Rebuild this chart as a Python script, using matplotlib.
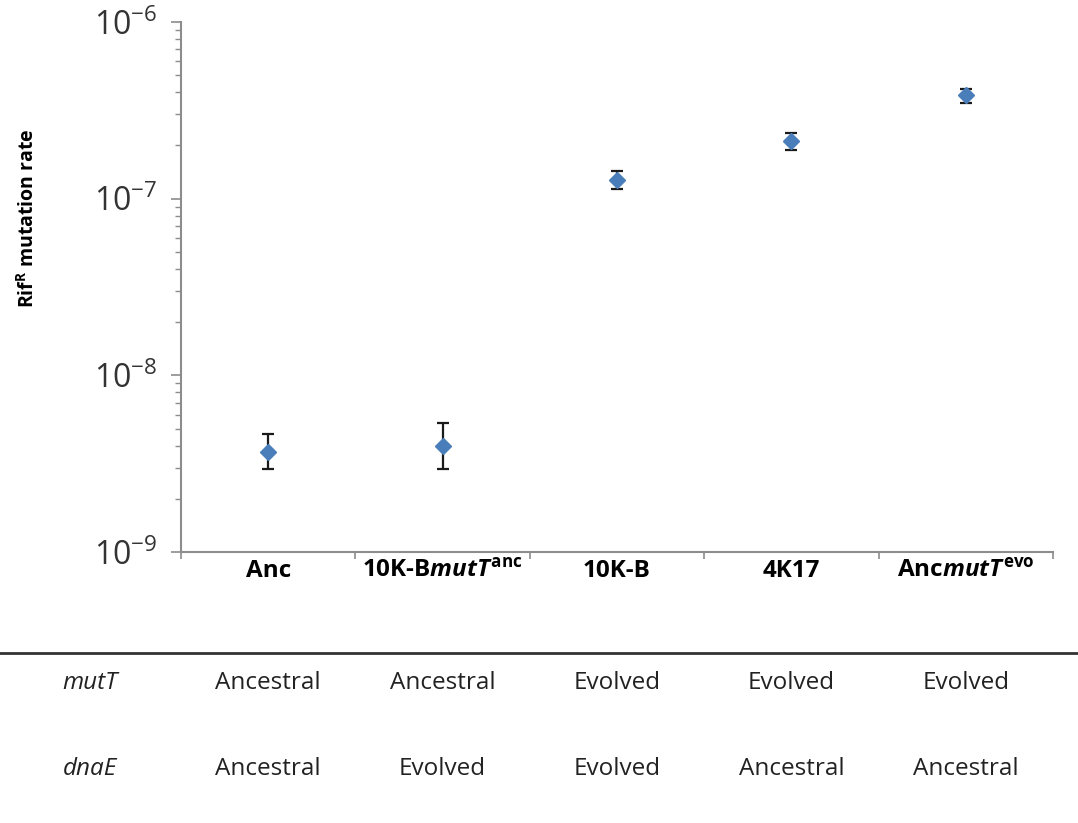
import matplotlib
matplotlib.use("Agg")
import matplotlib.pyplot as plt
import numpy as np
from matplotlib import transforms
from matplotlib.lines import Line2D

plt.rcParams['font.family'] = ['Open Sans', 'DejaVu Sans']
plt.rcParams['mathtext.fontset'] = 'custom'
plt.rcParams['mathtext.it'] = 'Open Sans:italic:bold'
plt.rcParams['mathtext.rm'] = 'Open Sans'

strains = ['Anc', r'10K-B$\mathit{mutT}^{\mathdefault{anc}}$', '10K-B', '4K17',
           r'Anc$\mathit{mutT}^{\mathdefault{evo}}$']
rate = [3.7e-9, 4.0e-9, 1.28e-7, 2.12e-7, 3.85e-7]
rate_lo = [2.95e-9, 2.95e-9, 1.13e-7, 1.88e-7, 3.5e-7]
rate_hi = [4.65e-9, 5.4e-9, 1.43e-7, 2.36e-7, 4.2e-7]
ytick_vals = [1e-9, 1e-8, 1e-7, 1e-6]
ytick_labels = [r'10$^{\mathdefault{-9}}$', r'10$^{\mathdefault{-8}}$',
                r'10$^{\mathdefault{-7}}$', r'10$^{\mathdefault{-6}}$']

# genotype table under the chart
row_names = ['mutT', 'dnaE']
mutT_state = ['Ancestral', 'Ancestral', 'Evolved', 'Evolved', 'Evolved']
dnaE_state = ['Ancestral', 'Evolved', 'Evolved', 'Ancestral', 'Ancestral']

W, H = 1078, 823
fig = plt.figure(figsize=(W/100, H/100), dpi=100)
ax = fig.add_axes([181/W, 1-552/H, (1053-181)/W, (552-22)/H])

x = np.arange(1, len(strains)+1)
rate = np.array(rate)
yerr = [rate - np.array(rate_lo), np.array(rate_hi) - rate]
ax.errorbar(x, rate, yerr=yerr, fmt='D', color='#4a7ebb', markersize=8.5,
            ecolor='#1a1a1a', elinewidth=1.6, capsize=4, capthick=1.6, zorder=3)

ax.set_yscale('log')
ax.set_ylim(1e-9, 1e-6)
ax.set_xlim(0.5, len(strains)+0.5)
ax.set_yticks(ytick_vals)
ax.set_yticklabels(ytick_labels)

for s in ['top', 'right']:
    ax.spines[s].set_visible(False)
for s in ['left', 'bottom']:
    ax.spines[s].set_color('#8c8c8c')
    ax.spines[s].set_linewidth(1.5)

ax.tick_params(axis='y', which='major', length=7, width=1.2, color='#8c8c8c',
               labelsize=23, labelcolor='#333333', pad=10)
ax.tick_params(axis='y', which='minor', length=4, width=1.0, color='#8c8c8c')

# category boundaries as ticks, names at the centres
ax.set_xticks(np.arange(0.5, len(strains)+1, 1.0))
ax.set_xticklabels([])
ax.set_xticks(x, minor=True)
ax.set_xticklabels(strains, minor=True, fontweight='bold', fontsize=17.5)
ax.tick_params(axis='x', which='major', length=5, width=1.2, color='#8c8c8c')
ax.tick_params(axis='x', which='minor', length=0, pad=5)

ax.set_ylabel(r'Rif$^{\mathdefault{R}}$ mutation rate', fontweight='bold', fontsize=14)
ax.yaxis.set_label_coords(-0.163, 0.63)

# table
fig.add_artist(Line2D([0, 1], [1-653/H, 1-653/H], transform=fig.transFigure,
                      color='#333333', linewidth=2))
tr = transforms.blended_transform_factory(ax.transData, fig.transFigure)
rows_y = [1-683/H, 1-769/H]
for name, states, yy in zip(row_names, [mutT_state, dnaE_state], rows_y):
    fig.text(90/W, yy, name, style='italic', fontsize=17.5, ha='center', va='center',
             color='#222222')
    for xi, st in zip(x, states):
        fig.text(xi, yy, st, transform=tr, fontsize=17.5, ha='center', va='center',
                 color='#222222')

fig.savefig('out.png', dpi=100, facecolor='white')
